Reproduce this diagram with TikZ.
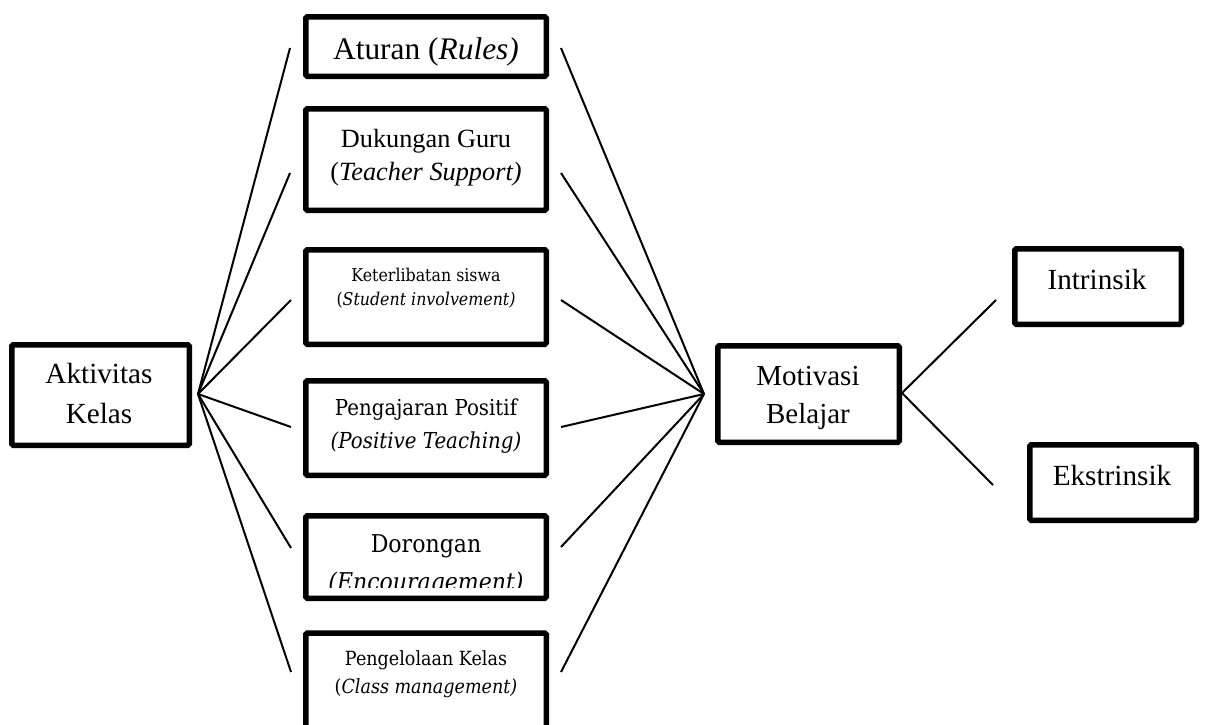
\documentclass[tikz,border=0pt]{standalone}
\usepackage{fontspec}
\setmainfont{Liberation Serif}
\newfontfamily\camb[FakeStretch=0.9]{DejaVu Serif}
\begin{document}
\begin{tikzpicture}[x=1pt,y=-1pt,
  box/.style={draw=black,line width=5.5pt,rounded corners=1.5pt,inner sep=0pt,minimum width=#1},
  conn/.style={draw=black,line width=2pt},
  txt/.style={anchor=base,inner sep=0pt}
]
\useasboundingbox (0,0) rectangle (1206,724);
\clip (0,0) rectangle (1206,724);
% ---- boxes (outer extents minus half border) ----
\node[box=240.5pt,minimum height=59.5pt]  (rules)  at (426,46.5) {};
\node[box=240.5pt,minimum height=101.5pt] (guru)   at (426,159.5) {};
\node[box=240.5pt,minimum height=94.5pt]  (siswa)  at (426,297) {};
\node[box=240.5pt,minimum height=94.5pt]  (pos)    at (426,428) {};
\node[box=240.5pt,minimum height=82.5pt]  (dor)    at (426,557) {};
\node[box=240.5pt,minimum height=130pt]   (kelola) at (426,698) {};
\node[box=177.5pt,minimum height=100.5pt] (akt)    at (100.5,395) {};
\node[box=181.5pt,minimum height=96.5pt]  (mot)    at (808.5,394) {};
\node[box=166.5pt,minimum height=75.5pt]  (intr)   at (1098,286.5) {};
\node[box=166.5pt,minimum height=75.5pt]  (ekst)   at (1113,482.5) {};
% ---- texts ----
\node[txt] (tRules) at (426,59) {\fontsize{31.4}{31.4}\selectfont Aturan (\textit{Rules)}};
\node[txt] (tGuru1) at (426,147) {\fontsize{26.3}{26.3}\selectfont Dukungan Guru};
\node[txt] (tGuru2) at (426,180) {\fontsize{26.3}{26.3}\selectfont (\textit{Teacher Support)}};
\node[txt] (tSis1) at (426,281) {\camb\fontsize{17.6}{17.6}\selectfont Keterlibatan siswa};
\node[txt] (tSis2) at (426,305) {\camb\fontsize{17.6}{17.6}\selectfont (\textit{Student involvement)}};
\node[txt] (tPos1) at (426,415) {\camb\fontsize{22}{22}\selectfont Pengajaran Positif};
\node[txt] (tPos2) at (426,448) {\camb\fontsize{22}{22}\selectfont \textit{(Positive Teaching)}};
\node[txt] (tDor1) at (426,552) {\camb\fontsize{24.5}{24.5}\selectfont Dorongan};
\begin{scope}
\clip (300,500) rectangle (552,587.5);
\node[txt] (tDor2) at (426,590) {\camb\fontsize{24.5}{24.5}\selectfont \textit{(Encouragement)}};
\end{scope}
\node[txt] (tKel1) at (426,665) {\camb\fontsize{19.5}{19.5}\selectfont Pengelolaan Kelas};
\node[txt] (tKel2) at (426,693) {\camb\fontsize{19.5}{19.5}\selectfont (\textit{Class management)}};
\node[txt] (tAkt1) at (99,383) {\fontsize{29.2}{29.2}\selectfont Aktivitas};
\node[txt] (tAkt2) at (99,423) {\fontsize{29.2}{29.2}\selectfont Kelas};
\node[txt] (tMot1) at (808,385) {\fontsize{29}{29}\selectfont Motivasi};
\node[txt] (tMot2) at (808,423) {\fontsize{29}{29}\selectfont Belajar};
\node[txt] (tIntr) at (1097,289) {\fontsize{29.2}{29.2}\selectfont Intrinsik};
\node[txt] (tEkst) at (1112,485) {\fontsize{29.2}{29.2}\selectfont Ekstrinsik};
% ---- connector ends ----
\coordinate (hubA) at (198,394);
\coordinate (hubM) at (704,394);
\coordinate (hubR) at (902,393);
\coordinate (l1) at (290,48);  \coordinate (r1) at (561,48);
\coordinate (l2) at (290,173); \coordinate (r2) at (561,173);
\coordinate (l3) at (291,300); \coordinate (r3) at (561,300);
\coordinate (l4) at (291,427); \coordinate (r4) at (561,427);
\coordinate (l5) at (291,548); \coordinate (r5) at (561,547);
\coordinate (l6) at (291,672); \coordinate (r6) at (561,672);
\coordinate (ei) at (996,300);
\coordinate (ee) at (993,485);
% ---- connectors ----
\foreach \i in {1,...,6}{
  \draw[conn] (hubA) -- (l\i);
  \draw[conn] (r\i) -- (hubM);
}
\draw[conn] (hubR) -- (ei);
\draw[conn] (hubR) -- (ee);
\end{tikzpicture}
\end{document}
